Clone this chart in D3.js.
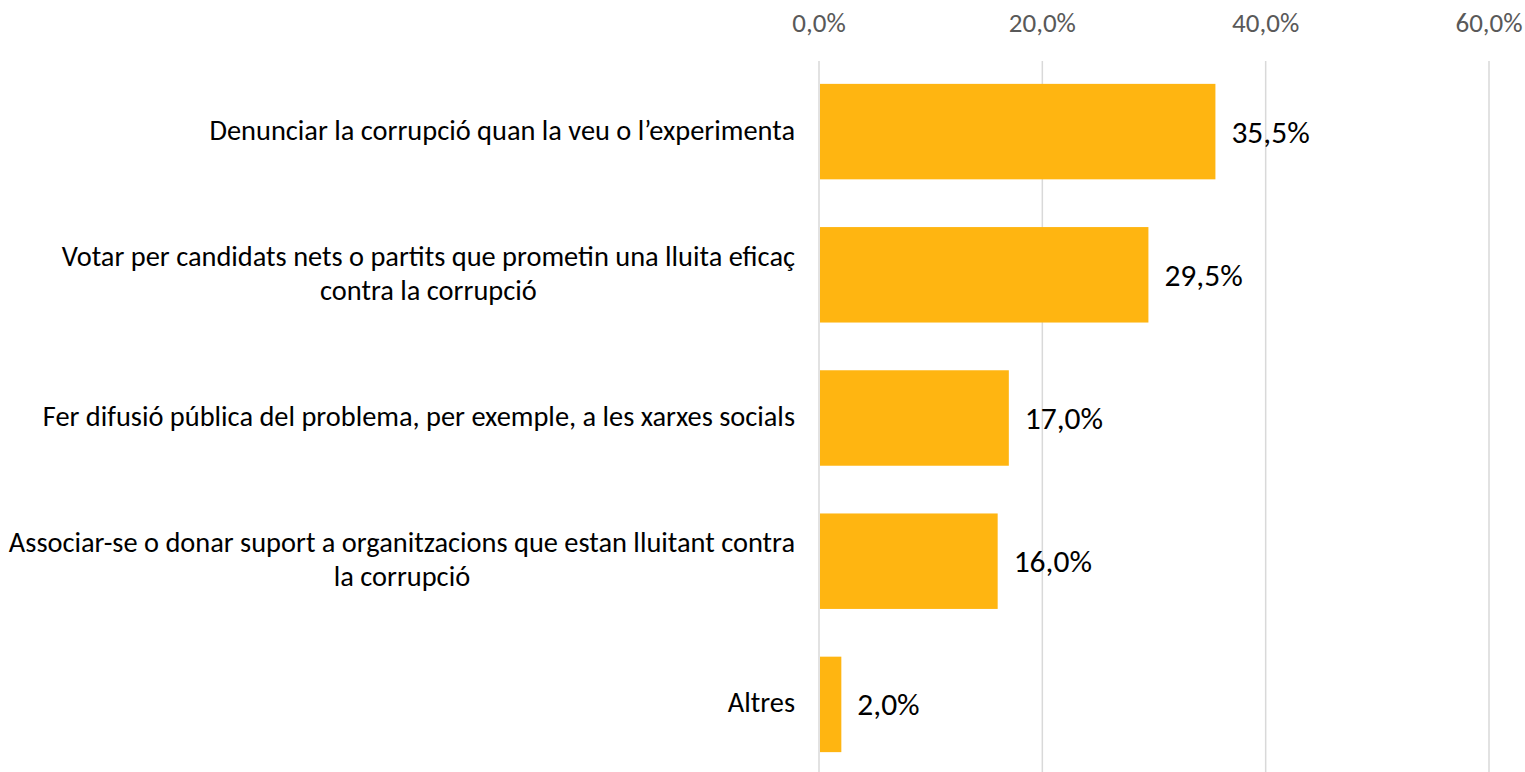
<!DOCTYPE html>
<html>
<head>
<meta charset="utf-8">
<script src="https://cdn.jsdelivr.net/npm/d3@7"></script>
<style>
  body { margin: 0; background: #fff; }
  svg text { font-family: Carlito, Calibri, "Open Sans", sans-serif; }
</style>
</head>
<body>
<div id="chart"></div>
<script>
// category labels, one entry per bar, wrapped lines kept as in the original
var categories = [
    ["Denunciar la corrupció quan la veu o l’experimenta"],
    ["Votar per candidats nets o partits que prometin una lluita eficaç", "contra la corrupció"],
    ["Fer difusió pública del problema, per exemple, a les xarxes socials"],
    ["Associar-se o donar suport a organitzacions que estan lluitant contra", "la corrupció"],
    ["Altres"]
];
var values = [35.5, 29.5, 17.0, 16.0, 2.0];
var ticks = [0, 20, 40, 60];

var width = 1525;
var height = 772;
var plotLeft = 819, plotRight = 1489;
var plotTop = 60, plotBottom = 776;

var fmt = function (v) { return v.toFixed(1).replace(".", ",") + "%"; };

var svg = d3.select("#chart")
    .append("svg")
    .attr("width", width)
    .attr("height", height);

var xScale = d3.scaleLinear()
    .domain([0, 60])
    .range([plotLeft, plotRight]);

var yScale = d3.scaleBand()
    .domain(d3.range(categories.length))
    .range([plotTop, plotBottom])
    .paddingInner(1 / 3)
    .paddingOuter(1 / 6);

// vertical gridlines
svg.append("g")
    .selectAll("line")
    .data(ticks)
    .enter()
    .append("line")
    .attr("x1", function (d) { return xScale(d); })
    .attr("x2", function (d) { return xScale(d); })
    .attr("y1", plotTop + 1)
    .attr("y2", plotBottom)
    .attr("stroke", "#d9d9d9")
    .attr("stroke-width", 1.5);

// tick labels along the top
svg.append("g")
    .selectAll("text")
    .data(ticks)
    .enter()
    .append("text")
    .attr("x", function (d) { return xScale(d); })
    .attr("y", 32)
    .attr("text-anchor", "middle")
    .attr("fill", "#595959")
    .style("font-size", "27px")
    .text(fmt);

// bars
svg.append("g")
    .selectAll("rect")
    .data(values)
    .enter()
    .append("rect")
    .attr("x", xScale(0) + 1)
    .attr("y", function (d, i) { return yScale(i); })
    .attr("width", function (d) { return xScale(d) - xScale(0) - 1; })
    .attr("height", yScale.bandwidth())
    .attr("fill", "#ffb511");

// value labels
svg.append("g")
    .selectAll("text")
    .data(values)
    .enter()
    .append("text")
    .attr("x", function (d) { return xScale(d) + 16; })
    .attr("y", function (d, i) { return yScale(i) + yScale.bandwidth() / 2 + 11; })
    .attr("fill", "#000")
    .style("font-size", "31.5px")
    .text(fmt);

// category labels, wrapped lines centred on each other, block right-aligned
var labelRight = 795;
var lineHeight = 33.5;
var labels = svg.append("g")
    .selectAll("g")
    .data(categories)
    .enter()
    .append("g");

labels.each(function (lines, i) {
    var g = d3.select(this);
    var cy = yScale(i) + yScale.bandwidth() / 2;
    var texts = g.selectAll("text")
        .data(lines)
        .enter()
        .append("text")
        .attr("fill", "#000")
        .style("font-size", "28.4px")
        .attr("y", function (d, j) { return cy + 8 + (j - (lines.length - 1) / 2) * lineHeight; })
        .text(function (d) { return d; });
    var maxW = 0;
    texts.each(function () { maxW = Math.max(maxW, this.getComputedTextLength()); });
    texts.attr("text-anchor", "middle")
        .attr("x", labelRight - maxW / 2);
});
</script>
</body>
</html>
